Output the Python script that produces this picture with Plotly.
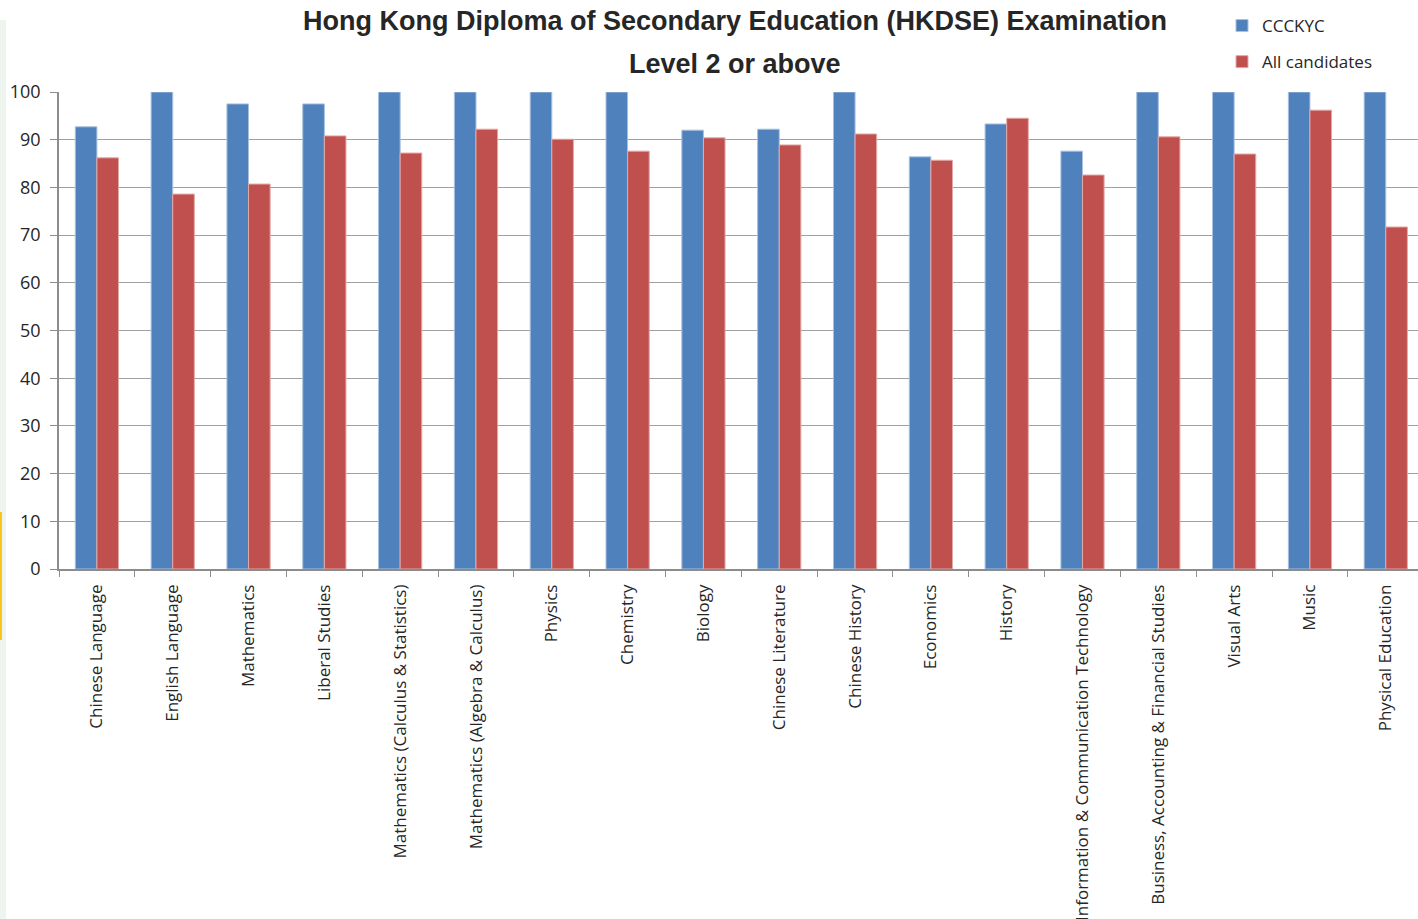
import plotly.graph_objects as go

subjects = [
    "Chinese Language", "English Language", "Mathematics", "Liberal Studies",
    "Mathematics (Calculus & Statistics)", "Mathematics (Algebra & Calculus)",
    "Physics", "Chemistry", "Biology", "Chinese Literature", "Chinese History",
    "Economics", "History", "Information & Communication Technology",
    "Business, Accounting & Financial Studies", "Visual Arts", "Music",
    "Physical Education",
]
ccckyc = [92.7, 100, 97.5, 97.5, 100, 100, 100, 100, 92.0, 92.2, 100,
          86.4, 93.3, 87.6, 100, 100, 100, 100]
all_candidates = [86.2, 78.6, 80.7, 90.8, 87.2, 92.2, 90.1, 87.6, 90.4, 88.9,
                  91.2, 85.7, 94.5, 82.6, 90.6, 87.0, 96.2, 71.7]
y_ticks = [0, 10, 20, 30, 40, 50, 60, 70, 80, 90, 100]

W, H = 1418, 919
L, T, B = 59, 92, 350
PW, PH = W - L, H - T - B

fig = go.Figure()
fig.add_trace(go.Bar(x=subjects, y=ccckyc, name="CCCKYC", legendgroup="a",
                     marker=dict(color="#4F81BD", line=dict(color="#A9C0DE", width=1))))
fig.add_trace(go.Bar(x=subjects, y=all_candidates, name="All candidates", legendgroup="b",
                     marker=dict(color="#C0504D", line=dict(color="#E3A9A7", width=1))))

fig.update_layout(
    width=W, height=H,
    margin=dict(l=L, r=0, t=T, b=B, autoexpand=False),
    paper_bgcolor="white", plot_bgcolor="white",
    barmode="group", bargap=0.43, bargroupgap=0,
    font=dict(family="Open Sans, sans-serif", size=17, color="#262626"),
    showlegend=True,
    legend=dict(x=1222 / W, xanchor="left", xref="container",
                y=1 - 8 / H, yanchor="top", yref="container",
                font=dict(size=17, family="Open Sans, sans-serif", color="#262626"),
                tracegroupgap=11, itemwidth=30, bgcolor="rgba(0,0,0,0)"),
    xaxis=dict(
        type="category", range=[-0.5, 17.425], automargin=False,
        tickangle=-90, tickson="boundaries", ticks="outside", ticklen=6,
        tickcolor="#8C8C8C", showline=True, linecolor="#8C8C8C", linewidth=1.5,
        tickfont=dict(family="Open Sans, sans-serif", size=17, color="#262626"),
        ticklabelstandoff=7, showgrid=False,
    ),
    yaxis=dict(
        range=[0, 100], tickvals=y_ticks, ticks="outside", ticklen=7, automargin=False,
        tickcolor="#8C8C8C", showline=True, linecolor="#8C8C8C", linewidth=1.5,
        showgrid=True, gridcolor="#A0A0A0", gridwidth=1.4, zeroline=False,
        tickfont=dict(family="Open Sans, sans-serif", size=18, color="#262626"),
        ticklabelstandoff=6,
    ),
)

fig.add_annotation(text="<b>Hong Kong Diploma of Secondary Education (HKDSE) Examination</b>",
                   xref="paper", yref="paper", x=(735 - L) / PW, y=1 + (T - 21) / PH,
                   xanchor="center", yanchor="middle", showarrow=False,
                   font=dict(family="Liberation Sans, Arial, sans-serif", size=27, color="#262626"))
fig.add_annotation(text="<b>Level 2 or above</b>",
                   xref="paper", yref="paper", x=(735 - L) / PW, y=1 + (T - 64) / PH,
                   xanchor="center", yanchor="middle", showarrow=False,
                   font=dict(family="Liberation Sans, Arial, sans-serif", size=27, color="#262626"))

# page decoration at the left edge
fig.add_shape(type="rect", xref="paper", yref="paper",
              x0=-L / PW, x1=(-L + 6) / PW, y0=-B / PH, y1=1 + (T - 20) / PH,
              fillcolor="#EEF4EE", line=dict(width=0), layer="below")
fig.add_shape(type="rect", xref="paper", yref="paper",
              x0=-L / PW, x1=(-L + 2) / PW, y0=(569 - 640) / PH, y1=(569 - 512) / PH,
              fillcolor="#F5C518", line=dict(width=0))

fig.write_html("out.html", config={"displayModeBar": False},
               post_script="document.body.style.margin='0';document.body.style.overflow='hidden';")
